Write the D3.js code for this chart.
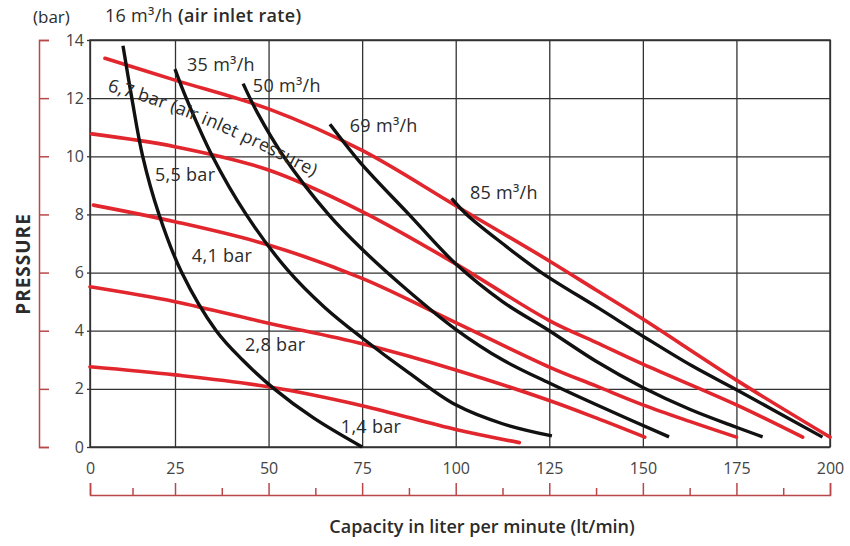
<!DOCTYPE html>
<html>
<head>
<meta charset="utf-8">
<script src="https://cdn.jsdelivr.net/npm/d3@7"></script>
<style>
  body { margin: 0; background: #fff; }
  svg { display: block; font-family: "Open Sans", "Noto Sans", sans-serif; }
</style>
</head>
<body>
<svg id="chart" width="850" height="546"></svg>
<script>
// axis ticks
const xTicks = [0, 25, 50, 75, 100, 125, 150, 175, 200];
const xMinorTicks = [12.5, 37.5, 62.5, 87.5, 112.5, 137.5, 162.5, 187.5];
const yTicks = [0, 2, 4, 6, 8, 10, 12, 14];

// black curves: constant air inlet rate, [capacity lt/min, pressure bar]
const rateNames = ["16 m³/h", "35 m³/h", "50 m³/h", "69 m³/h", "85 m³/h"];
const rate16 = [[9.7, 13.8], [12.3, 12], [15.5, 10], [20.3, 8], [26.8, 6], [36, 4], [43, 3], [51.5, 2], [62, 1], [75, 0]];
const rate35 = [[25, 13.0], [28, 12], [35, 10], [44, 8], [55, 6.1], [65, 4.8], [75, 3.75], [87.5, 2.55], [100, 1.45], [112.5, 0.8], [125.7, 0.38]];
const rate50 = [[43.2, 12.5], [47, 11.5], [54, 10], [66, 8], [75, 6.8], [87.5, 5.35], [100, 4.05], [112.5, 3.0], [125, 2.2], [138.5, 1.4], [157, 0.35]];
const rate69 = [[66.4, 11.1], [74.4, 9.8], [87.5, 8], [100, 6.3], [112.5, 5.0], [125, 4.0], [137.5, 2.95], [150, 2.05], [162.5, 1.3], [175, 0.68], [182, 0.35]];
const rate85 = [[98.9, 8.55], [102.9, 8], [112.5, 7.0], [122.9, 6], [138.5, 4.75], [150.8, 3.75], [163, 2.8], [176, 1.9], [198, 0.34]];

// red curves: constant air inlet pressure
const pressNames = ["6,7 bar", "5,5 bar", "4,1 bar", "2,8 bar", "1,4 bar"];
const press67 = [[4.4, 13.37], [25, 12.62], [50, 11.63], [75, 10.2], [100, 8.3], [125, 6.4], [137.5, 5.4], [150, 4.4], [175, 2.3], [200, 0.34]];
const press55 = [[0.5, 10.77], [25, 10.33], [50, 9.53], [75, 8.1], [100, 6.3], [125, 4.35], [137.5, 3.6], [150, 2.85], [175, 1.45], [192.7, 0.34]];
const press41 = [[1, 8.32], [25, 7.75], [50, 6.95], [75, 5.8], [100, 4.28], [125, 2.75], [137.5, 2.1], [150, 1.45], [162.5, 0.88], [175, 0.34]];
const press28 = [[0, 5.51], [25, 5.0], [50, 4.26], [75, 3.55], [100, 2.65], [125, 1.6], [137.5, 1.0], [150.5, 0.34]];
const press14 = [[0, 2.76], [25, 2.48], [50, 2.07], [75, 1.42], [100, 0.6], [117, 0.15]];

const rateCurves = [rate16, rate35, rate50, rate69, rate85];
const pressCurves = [press67, press55, press41, press28, press14];

const svg = d3.select("#chart");
const textColor = "#2b2b2b";
const gridColor = "#333";
const axisRed = "#b9474a";
const curveRed = "#e1262d";

// the scan's first grid column is a little narrower than the rest
const x = d3.scaleLinear().domain([0, 25, 200]).range([90, 175, 830]);
const y = d3.scaleLinear().domain([0, 14]).range([447, 40]);

// grid
svg.append("g")
    .attr("transform", `translate(0,${y(0)})`)
    .call(d3.axisBottom(x).tickValues(xTicks).tickSize(-(y(0) - y(14))).tickFormat(""))
    .call(g => g.select(".domain").remove())
    .selectAll("line").attr("stroke", gridColor).attr("stroke-width", 1.3);

svg.append("g")
    .attr("transform", `translate(${x(0)},0)`)
    .call(d3.axisLeft(y).tickValues(yTicks).tickSize(-(x(200) - x(0))).tickFormat(""))
    .call(g => g.select(".domain").remove())
    .selectAll("line").attr("stroke", gridColor).attr("stroke-width", 1.3);

svg.append("rect")
    .attr("x", x(0)).attr("y", y(14))
    .attr("width", x(200) - x(0)).attr("height", y(0) - y(14))
    .attr("fill", "none").attr("stroke", gridColor).attr("stroke-width", 1.5);

// y tick labels with small stubs
const yLab = svg.append("g")
    .attr("transform", `translate(${x(0)},0)`)
    .call(d3.axisLeft(y).tickValues(yTicks).tickSize(3).tickPadding(3))
    .call(g => g.select(".domain").remove());
yLab.selectAll("line").attr("stroke", gridColor).attr("stroke-width", 1.3);
yLab.selectAll("text").attr("fill", "#444").attr("font-size", 16).attr("font-family", "Open Sans");

// red bracket axis on the left
const yRed = svg.append("g")
    .attr("transform", "translate(39,0)")
    .call(d3.axisRight(y).tickValues(yTicks).tickSize(10).tickFormat(""));
yRed.selectAll("line, path").attr("stroke", axisRed).attr("stroke-width", 1.5);

// red axis at the bottom with labels
const axisY = 495;
const xRed = svg.append("g")
    .attr("transform", `translate(0,${axisY})`)
    .call(d3.axisTop(x).tickValues(xTicks).tickSize(12).tickPadding(9));
xRed.selectAll("line, path").attr("stroke", axisRed).attr("stroke-width", 1.5);
xRed.selectAll("text").attr("fill", "#444").attr("font-size", 16).attr("font-family", "Open Sans");

const xRedMinor = svg.append("g")
    .attr("transform", `translate(0,${axisY})`)
    .call(d3.axisTop(x).tickValues(xMinorTicks).tickSize(7).tickFormat(""))
    .call(g => g.select(".domain").remove());
xRedMinor.selectAll("line").attr("stroke", axisRed).attr("stroke-width", 1.5);

// curves
const line = d3.line()
    .x(d => x(d[0]))
    .y(d => y(d[1]))
    .curve(d3.curveCatmullRom.alpha(0.5));

svg.append("g")
    .selectAll("path")
    .data(pressCurves)
    .join("path")
    .attr("d", line)
    .attr("fill", "none")
    .attr("stroke", curveRed)
    .attr("stroke-width", 3.6)
    .attr("stroke-linecap", "round");

svg.append("g")
    .selectAll("path")
    .data(rateCurves)
    .join("path")
    .attr("d", line)
    .attr("fill", "none")
    .attr("stroke", "#111")
    .attr("stroke-width", 3.4)
    .attr("stroke-linecap", "butt");

// curve labels
const labels = svg.append("g")
    .attr("fill", textColor)
    .attr("font-size", 18)
    .attr("letter-spacing", 0.3);

const rateLabelAt = [[4.4, 14.62], [28.2, 12.93], [45.8, 12.2], [71.7, 10.82], [103.8, 8.53]];
labels.selectAll(".rate")
    .data(rateNames)
    .join("text")
    .attr("class", "rate")
    .attr("x", (d, i) => x(rateLabelAt[i][0]))
    .attr("y", (d, i) => y(rateLabelAt[i][1]))
    .text(d => d);

labels.append("text")
    .attr("x", x(4.4) + 73)
    .attr("y", y(14.62))
    .attr("font-weight", 600)
    .text("(air inlet rate)");

const pressLabelAt = [[19.1, 9.15], [29.5, 6.35], [43.7, 3.3], [69.3, 0.48]];
labels.selectAll(".press")
    .data(pressNames.slice(1))
    .join("text")
    .attr("class", "press")
    .attr("x", (d, i) => x(pressLabelAt[i][0]))
    .attr("y", (d, i) => y(pressLabelAt[i][1]))
    .text(d => d);

// the 6,7 bar label bends a little along its curve
svg.append("defs").append("path")
    .attr("id", "press67-label")
    .attr("d", "M107,91 Q203,116 330,186");

labels.append("text")
    .append("textPath")
    .attr("href", "#press67-label")
    .text(pressNames[0] + " (air inlet pressure)");

labels.append("text")
    .attr("x", 33).attr("y", 23)
    .attr("letter-spacing", 0)
    .attr("font-size", 17)
    .text("(bar)");

// axis titles
svg.append("text")
    .attr("transform", "translate(30,264) rotate(-90)")
    .attr("text-anchor", "middle")
    .attr("font-size", 19)
    .attr("font-weight", 700)
    .attr("letter-spacing", 1)
    .attr("fill", textColor)
    .text("PRESSURE");

svg.append("text")
    .attr("x", (x(0) + x(200)) / 2 + 22)
    .attr("y", 533)
    .attr("text-anchor", "middle")
    .attr("font-size", 18)
    .attr("font-weight", 600)
    .attr("fill", textColor)
    .text("Capacity in liter per minute (lt/min)");
</script>
</body>
</html>
